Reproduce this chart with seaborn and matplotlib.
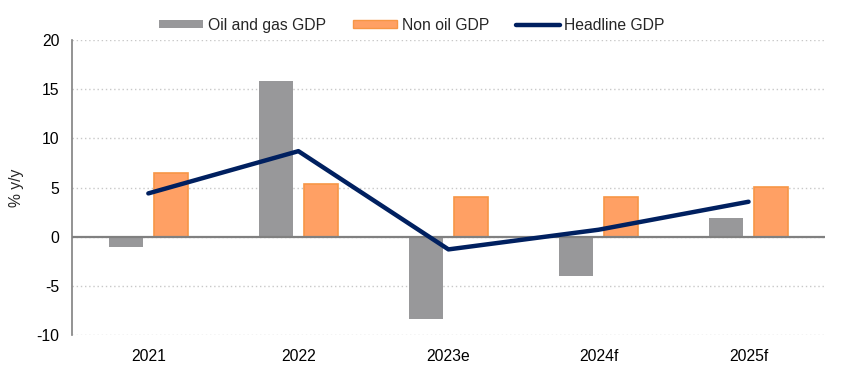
import pandas as pd
import matplotlib.pyplot as plt
import seaborn as sns
from matplotlib.patches import Patch
from matplotlib.lines import Line2D
from matplotlib.ticker import FuncFormatter

# Chart data
years = ['2021', '2022', '2023e', '2024f', '2025f']
oil_gdp = [-1.1, 15.8, -8.4, -4.0, 1.9]
non_oil_gdp = [6.5, 5.4, 4.05, 4.05, 5.1]
headline_gdp = [4.4, 8.7, -1.3, 0.7, 3.55]
series_names = ['Oil and gas GDP', 'Non oil GDP']

sns.set_style('white')
plt.rcParams['font.family'] = ['Liberation Sans', 'DejaVu Sans']

bar_df = pd.DataFrame({
    'Year': years * 2,
    'Value': oil_gdp + non_oil_gdp,
    'Series': [series_names[0]] * len(years) + [series_names[1]] * len(years),
})

oil_col = '#98989a'
non_oil_col = '#ffa064'
non_oil_edge = '#f79646'
line_col = '#002060'
fs = 11.3

fig = plt.figure(figsize=(8.55, 3.75), dpi=100)
ax = fig.add_axes([0.084, 0.107, 0.881, 0.786])

sns.barplot(data=bar_df, x='Year', y='Value', hue='Series', order=years,
            hue_order=series_names, palette=[oil_col, non_oil_col],
            width=0.6, gap=0.23, saturation=1, legend=False, ax=ax, zorder=2)

# orange edge on the non-oil bars only
for cont, name in zip(ax.containers, series_names):
    for p in cont:
        if name == 'Non oil GDP':
            p.set_edgecolor(non_oil_edge)
            p.set_linewidth(1.2)
        else:
            p.set_linewidth(0)

ax.plot(range(len(years)), headline_gdp, color=line_col, lw=3.2,
        solid_capstyle='round', zorder=4)

ax.set_ylim(-10, 20)
ax.set_xlim(-0.51, 4.51)
ax.set_yticks(range(-10, 21, 5))
ax.yaxis.set_major_formatter(FuncFormatter(lambda v, pos: f'{v:.0f}'))
ax.yaxis.grid(True, linestyle=(0, (1, 2)), color='#c8c8c8', lw=1)
ax.set_axisbelow(True)
ax.axhline(0, color='#808080', lw=1.6, zorder=3)

for s in ['top', 'right', 'bottom']:
    ax.spines[s].set_visible(False)
ax.spines['left'].set_color('#808080')
ax.spines['left'].set_linewidth(1.2)

ax.tick_params(axis='both', length=0, labelsize=fs, colors='black')
ax.tick_params(axis='x', pad=10)
ax.tick_params(axis='y', pad=9)
ax.set_xlabel('')
ax.set_ylabel('% y/y', fontsize=fs, labelpad=9)

handles = [
    Patch(facecolor=oil_col, edgecolor='none'),
    Patch(facecolor=non_oil_col, edgecolor=non_oil_edge),
    Line2D([0], [0], color=line_col, lw=3.2, solid_capstyle='round'),
]
fig.legend(handles, ['Oil and gas GDP', 'Non oil GDP', 'Headline GDP'],
           loc='center', bbox_to_anchor=(0.482, 0.933), ncol=3, frameon=False,
           fontsize=fs, handlelength=2.8, handleheight=0.45,
           columnspacing=1.7, handletextpad=0.3)

plt.savefig('out.png', dpi=100)
